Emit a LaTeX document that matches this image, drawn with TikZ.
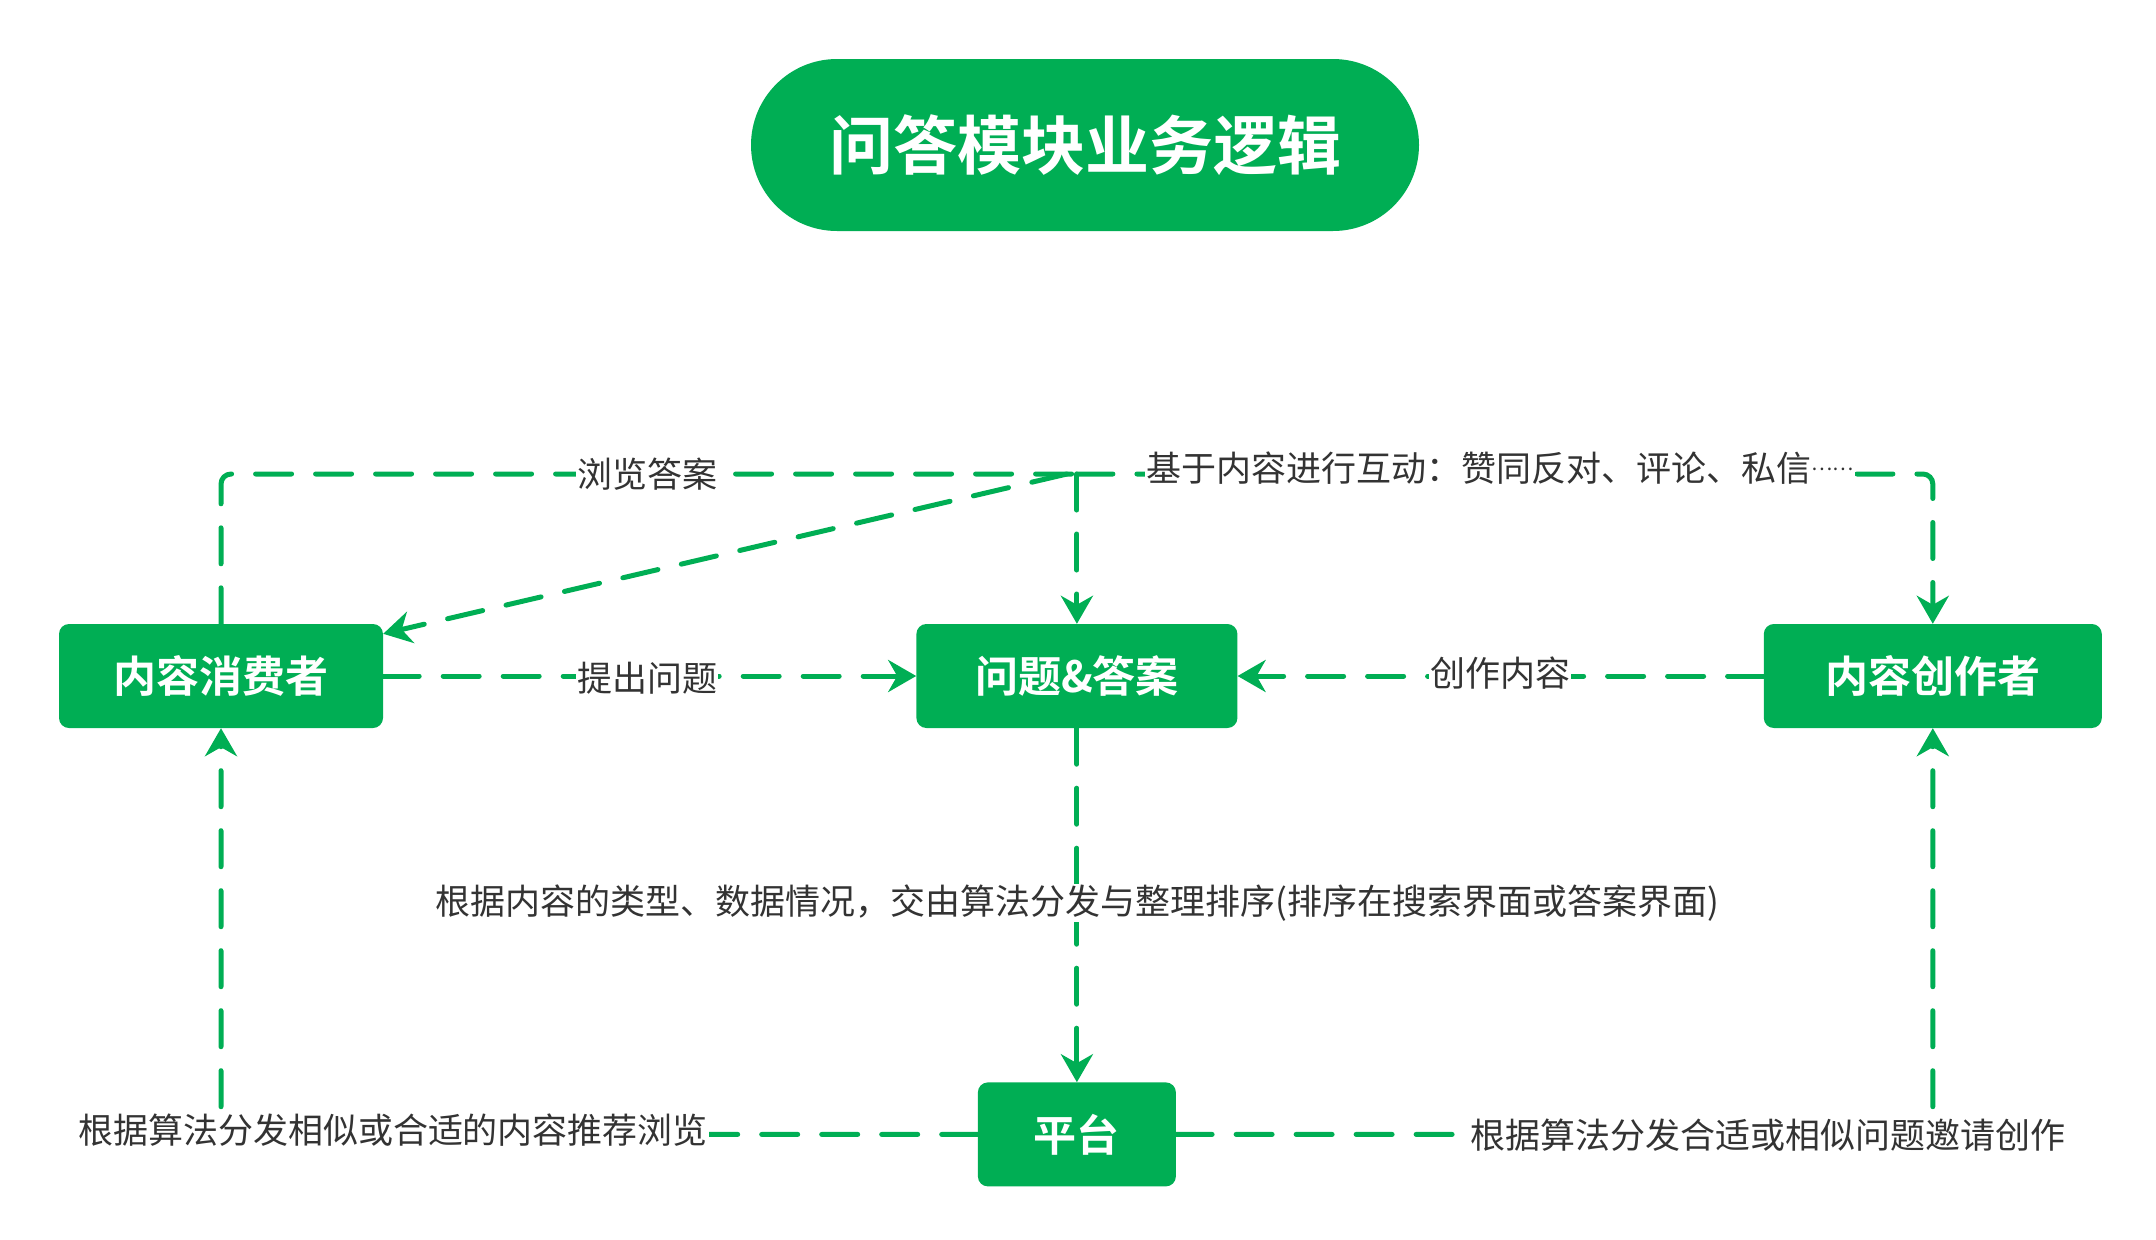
\documentclass[tikz,border=0pt]{standalone}
\usepackage{fontspec}
\setmainfont{Noto Sans CJK SC}[BoldFont={Noto Sans CJK SC Bold}]
\usepackage{tikz}
\usetikzlibrary{arrows.meta,positioning}
\definecolor{qagreen}{RGB}{0,174,84}
\definecolor{labelgray}{RGB}{51,51,51}
\tikzset{
  rolebox/.style={
    fill=qagreen,
    rounded corners=10pt,
    text=white,
    font=\fontsize{43}{50}\selectfont\bfseries,
    align=center,
    inner sep=0pt,
    minimum height=104pt
  },
  titlebox/.style={
    fill=qagreen,
    rounded corners=86pt,
    text=white,
    font=\fontsize{64}{72}\selectfont\bfseries,
    inner sep=0pt,
    minimum width=668pt,
    minimum height=172pt
  },
  flowlabel/.style={
    fill=white,
    text=labelgray,
    font=\fontsize{35}{40}\selectfont,
    inner sep=1pt
  },
  flowarrow/.style={
    draw=qagreen,
    line width=5pt,
    line cap=round,
    dash pattern=on 36pt off 24pt,
    rounded corners=10pt,
    -{Stealth[length=28pt,width=32pt,inset=9pt]}
  },
  flowline/.style={flowarrow, -}
}
\begin{document}
\begin{tikzpicture}[x=1pt,y=-1pt]
  \useasboundingbox (0,0) rectangle (2156,1240);
  \node[titlebox] (title) at (1085,145) {问答模块业务逻辑};

  \node[rolebox,minimum width=324pt] (cons) at (221,676) {内容消费者};
  \node[rolebox,minimum width=321pt,right=533pt of cons] (qa) {问题\&答案};
  \node[rolebox,minimum width=338pt,right=526pt of qa] (crea) {内容创作者};
  \node[rolebox,minimum width=198pt,below=354pt of qa] (plat) {平台};

  \coordinate (junc) at (qa.north |- 0,474);

  \draw[flowline] (cons.north) |- (junc);
  \draw[flowarrow] (junc) -- (qa.north);
  \draw[flowarrow] (junc) -| (crea.north);
  \draw[flowarrow] ([xshift=-10pt]junc) -- ([yshift=-10pt]cons.north east);
  \draw[flowarrow] (cons.east) -- (qa.west);
  \draw[flowarrow] (crea.west) -- (qa.east);
  \draw[flowarrow] (qa.south) -- (plat.north);
  \draw[flowarrow] (plat.west) -| (cons.south);
  \draw[flowarrow] (plat.east) -| (crea.south);

  \node[flowlabel] (browse) at (647,474) {浏览答案};
  \node[flowlabel] (interact) at (1500,468) {基于内容进行互动：赞同反对、评论、私信\raisebox{0.3em}{\fontsize{20}{20}\selectfont……}};
  \node[flowlabel] (ask) at (647,678) {提出问题};
  \node[flowlabel] (create) at (1500,673) {创作内容};
  \node[flowlabel] (sort) at (1077,903) {根据内容的类型、数据情况，交由算法分发与整理排序(排序在搜索界面或答案界面)};
  \node[flowlabel] (recommend) at (393,1130) {根据算法分发相似或合适的内容推荐浏览};
  \node[flowlabel] (invite) at (1768,1135) {根据算法分发合适或相似问题邀请创作};
\end{tikzpicture}
\end{document}
